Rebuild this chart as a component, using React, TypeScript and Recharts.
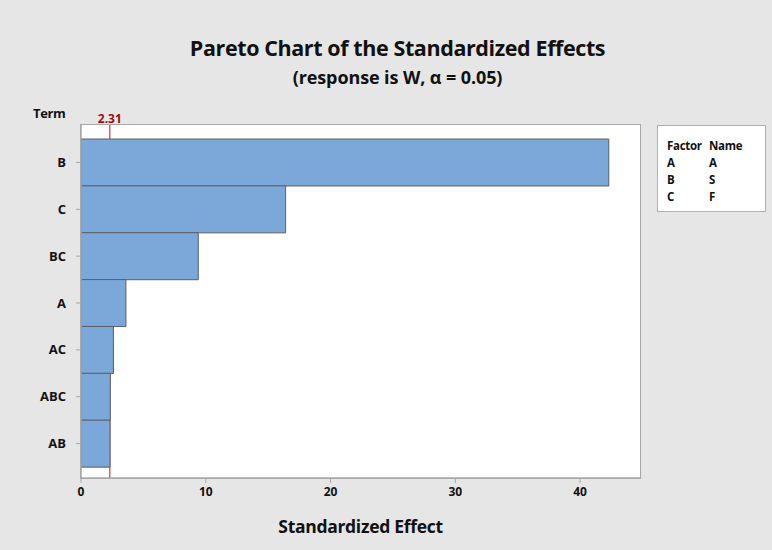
import React from "react";
import {
  BarChart,
  Bar,
  XAxis,
  YAxis,
  CartesianGrid,
  ReferenceLine,
} from "recharts";

const terms = ["B", "C", "BC", "A", "AC", "ABC", "AB"];
const effects = [42.3, 16.4, 9.4, 3.6, 2.6, 2.35, 2.33];
const xTicks = [0, 10, 20, 30, 40];
const critical = 2.31;
const factors = ["A", "B", "C"];
const names = ["A", "S", "F"];

const data = terms.map((t, i) => ({ term: t, effect: effects[i] }));

const font = "'Open Sans', 'Noto Sans', sans-serif";
const frame = "#a8a8a8";

const App: React.FC = () => {
  return (
    <div
      style={{
        position: "absolute",
        left: 0,
        top: 0,
        width: 772,
        height: 550,
        background: "#e6e6e6",
        fontFamily: font,
      }}
    >
      <div
        style={{
          position: "absolute",
          left: 0,
          width: 795,
          top: 33,
          textAlign: "center",
          fontWeight: 700,
          fontSize: 21.5,
          letterSpacing: -0.4,
          color: "#111",
        }}
      >
        Pareto Chart of the Standardized Effects
      </div>
      <div
        style={{
          position: "absolute",
          left: 0,
          width: 795,
          top: 65,
          textAlign: "center",
          fontWeight: 700,
          fontSize: 18,
          letterSpacing: -0.1,
          color: "#111",
        }}
      >
        (response is W, α = 0.05)
      </div>
      <div
        style={{
          position: "absolute",
          left: 33,
          top: 104,
          fontWeight: 700,
          fontSize: 13,
          letterSpacing: -0.4,
          color: "#111",
        }}
      >
        Term
      </div>

      <div style={{ position: "absolute", left: 0, top: 0 }}>
        <BarChart
          width={772}
          height={550}
          data={data}
          layout="vertical"
          barCategoryGap={0}
          margin={{ top: 125, right: 132, left: 20, bottom: 22 }}
        >
          <CartesianGrid fill="#ffffff" horizontal={false} vertical={false} />
          <XAxis
            type="number"
            domain={[0, 44.8]}
            ticks={xTicks}
            allowDataOverflow
            axisLine={{ stroke: frame, strokeWidth: 1.5 }}
            tickLine={{ stroke: frame }}
            tickSize={5}
            tickMargin={4}
            height={50}
            tick={{ fill: "#111", fontSize: 12, fontWeight: 700, fontFamily: font }}
            label={{
              value: "Standardized Effect",
              position: "insideBottom",
              offset: -5,
              fill: "#111",
              fontSize: 17.5,
              fontWeight: 700,
              letterSpacing: -0.3,
              fontFamily: font,
            }}
          />
          <YAxis
            type="category"
            dataKey="term"
            width={61}
            padding={{ top: 14, bottom: 11 }}
            axisLine={{ stroke: frame, strokeWidth: 1.5 }}
            tickLine={{ stroke: frame }}
            tickSize={5}
            tickMargin={10}
            tick={{ fill: "#111", fontSize: 13, fontWeight: 700, fontFamily: font }}
          />
          <ReferenceLine
            x={critical}
            stroke="#d01010"
            strokeWidth={1}
            zIndex={100}
            label={{
              value: "2.31",
              position: "top",
              fill: "#9a1010",
              fontSize: 12,
              fontWeight: 700,
              fontFamily: font,
              offset: 2,
            }}
          />
          <Bar
            dataKey="effect"
            fill="#7ba7d9"
            stroke="#5a5f66"
            strokeWidth={1}
            isAnimationActive={false}
          />
        </BarChart>
      </div>

      {/* plot frame */}
      <div
        style={{
          position: "absolute",
          left: 80,
          top: 124,
          width: 559,
          height: 353,
          border: `1.5px solid ${frame}`,
          pointerEvents: "none",
        }}
      />

      <div
        style={{
          position: "absolute",
          left: 657,
          top: 125,
          width: 107,
          height: 85,
          background: "#fff",
          border: "1.5px solid #b0b0b0",
          fontSize: 11.5,
          fontWeight: 700,
          color: "#111",
          letterSpacing: -0.3,
        }}
      >
        <div style={{ position: "absolute", left: 9, top: 11, lineHeight: "17px" }}>
          <div>Factor</div>
          {factors.map((f) => (
            <div key={f}>{f}</div>
          ))}
        </div>
        <div style={{ position: "absolute", left: 51, top: 11, lineHeight: "17px" }}>
          <div>Name</div>
          {names.map((n) => (
            <div key={n}>{n}</div>
          ))}
        </div>
      </div>
    </div>
  );
};

export default App;
